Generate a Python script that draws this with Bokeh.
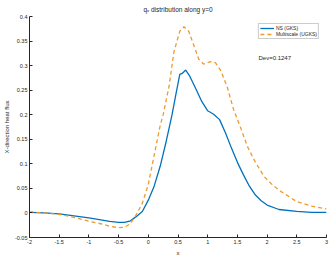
from bokeh.plotting import figure
from bokeh.models import Range1d, Label, Legend, LegendItem, FixedTicker
from bokeh.embed import file_html
from bokeh.resources import INLINE

# Data
x_ns = [-2.0, -1.75, -1.5, -1.25, -1.0, -0.8, -0.65, -0.5, -0.4, -0.3, -0.2, -0.1,
        0.0, 0.1, 0.2, 0.3, 0.4, 0.47, 0.53, 0.57, 0.63, 0.7, 0.8, 0.9, 1.0, 1.1,
        1.2, 1.3, 1.4, 1.5, 1.6, 1.7, 1.8, 1.9, 2.0, 2.2, 2.5, 2.75, 3.0]
q_ns = [0.001, 0.0, -0.002, -0.006, -0.010, -0.014, -0.017, -0.019, -0.019, -0.016,
        -0.007, 0.003, 0.026, 0.055, 0.095, 0.145, 0.200, 0.245, 0.282, 0.284,
        0.291, 0.278, 0.253, 0.227, 0.208, 0.201, 0.190, 0.163, 0.132, 0.103,
        0.078, 0.055, 0.037, 0.025, 0.016, 0.007, 0.003, 0.001, 0.001]

x_ugks = [-2.0, -1.75, -1.5, -1.25, -1.0, -0.8, -0.65, -0.5, -0.4, -0.3, -0.2, -0.1,
          0.0, 0.1, 0.2, 0.25, 0.35, 0.43, 0.53, 0.6, 0.68, 0.77, 0.85, 0.93, 1.05,
          1.13, 1.22, 1.33, 1.44, 1.55, 1.67, 1.8, 1.95, 2.1, 2.23, 2.5, 2.75, 3.0]
q_ugks = [0.002, 0.0, -0.003, -0.009, -0.017, -0.022, -0.027, -0.030, -0.029, -0.022,
          -0.003, 0.020, 0.058, 0.118, 0.178, 0.200, 0.258, 0.327, 0.370, 0.379,
          0.370, 0.340, 0.313, 0.303, 0.308, 0.306, 0.290, 0.256, 0.209, 0.175,
          0.135, 0.104, 0.074, 0.056, 0.044, 0.023, 0.014, 0.008]

x_ticks = [-2, -1.5, -1, -0.5, 0, 0.5, 1, 1.5, 2, 2.5, 3]
y_ticks = [-0.05, 0, 0.05, 0.1, 0.15, 0.2, 0.25, 0.3, 0.35, 0.4]
x_tick_labels = {-2: "-2", -1.5: "-1.5", -1: "-1", -0.5: "-0.5", 0: "0", 0.5: "0.5",
                 1: "1", 1.5: "1.5", 2: "2", 2.5: "2.5", 3: "3"}
y_tick_labels = {-0.05: "-0.05", 0: "0", 0.05: "0.05", 0.1: "0.1", 0.15: "0.15",
                 0.2: "0.2", 0.25: "0.25", 0.3: "0.3", 0.35: "0.35", 0.4: "0.4"}

FONT = "Liberation Sans"
TXT = "#262626"
BLUE = "#0072BD"
ORANGE = "#ED9B2F"

p = figure(width=332, height=258, output_backend="svg", toolbar_location=None,
           x_range=Range1d(-2, 3), y_range=Range1d(-0.05, 0.4),
           min_border_left=29, min_border_right=6, min_border_top=15,
           min_border_bottom=20, title="qₓ distribution along y=0")

p.title.align = "center"
p.title.text_font = FONT
p.title.text_font_size = "6.5px"
p.title.text_font_style = "normal"
p.title.text_color = TXT
p.title.standoff = 7

p.grid.visible = False
p.outline_line_color = None

for ax in (p.xaxis[0], p.yaxis[0]):
    ax.axis_line_color = TXT
    ax.major_tick_line_color = TXT
    ax.major_tick_in = 3
    ax.major_tick_out = 0
    ax.minor_tick_line_color = None
    ax.major_label_text_font = FONT
    ax.major_label_text_font_size = "5.5px"
    ax.major_label_text_color = TXT
    ax.axis_label_text_font = FONT
    ax.axis_label_text_font_size = "6px"
    ax.axis_label_text_font_style = "normal"
    ax.axis_label_text_color = TXT

p.xaxis.ticker = FixedTicker(ticks=x_ticks)
p.yaxis.ticker = FixedTicker(ticks=y_ticks)
p.xaxis.major_label_overrides = x_tick_labels
p.yaxis.major_label_overrides = y_tick_labels
p.xaxis.major_label_standoff = 2
p.yaxis.major_label_standoff = 2
p.xaxis.axis_label = "x"
p.yaxis.axis_label = "X-direction heat flux"
p.xaxis.axis_label_standoff = 3
p.yaxis.axis_label_standoff = 2

r1 = p.line(x_ns, q_ns, line_color=BLUE, line_width=1.3)
r2 = p.line(x_ugks, q_ugks, line_color=ORANGE, line_width=1.3, line_dash="4 3")

legend = Legend(items=[LegendItem(label="NS (GKS)", renderers=[r1]),
                       LegendItem(label="Multiscale (UGKS)", renderers=[r2])],
                location="top_right")
legend.label_text_font = FONT
legend.label_text_font_size = "5px"
legend.label_text_color = TXT
legend.label_height = 6
legend.label_standoff = 2
legend.glyph_width = 14
legend.glyph_height = 6
legend.padding = 1
legend.spacing = 0
legend.margin = 7
legend.border_line_color = "#999999"
legend.border_line_width = 0.8
legend.background_fill_alpha = 1
p.add_layout(legend)

p.add_layout(Label(x=1.855, y=0.316, text="Dev=0.1247", text_font=FONT,
                   text_font_size="6px", text_color=TXT, text_baseline="middle"))

open("out.html", "w").write(file_html(p, INLINE))
